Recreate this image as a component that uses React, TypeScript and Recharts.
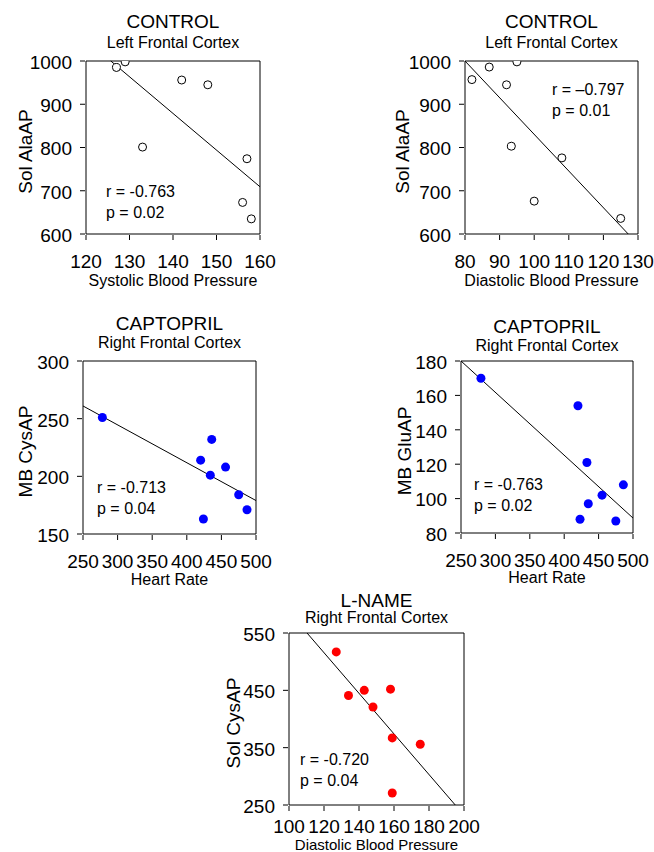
import React from "react";
import { ScatterChart, Scatter, XAxis, YAxis, ReferenceArea, ReferenceLine } from "recharts";

const FONT = '"Liberation Sans", Arial, Helvetica, sans-serif';

// CONTROL, left frontal cortex
const sbp = [129, 127, 142, 148, 133, 157, 156, 158];
const solAlaAP1 = [998, 985, 956, 945, 801, 774, 673, 635];
const dbpControl = [95, 87, 82, 92, 93.4, 108, 100, 125];
const solAlaAP2 = [998, 986, 957, 945, 803, 776, 676, 636];

// CAPTOPRIL, right frontal cortex
const hrCysAP = [278, 436, 420, 456, 434, 475, 487, 424];
const mbCysAP = [251, 232, 214, 208, 201, 184, 171, 163];
const hrGluAP = [279, 420, 433, 486, 455, 435, 423, 475];
const mbGluAP = [170, 154, 121, 108, 102, 97, 88, 87];

// L-NAME, right frontal cortex
const dbpLName = [127, 134, 143, 158, 148, 159, 175, 159];
const solCysAP = [517, 441, 450, 452, 421, 367, 356, 271];

// regression fits [intercept, slope]
const fit1 = [2066, -8.48];
const fit2 = [1678.4, -8.48];
const fit3 = [343, -0.328];
const fit4 = [271.3, -0.3652];
const fit5 = [940.7, -3.542];

const ticks1x = [120, 130, 140, 150, 160];
const ticks2x = [80, 90, 100, 110, 120, 130];
const ticksHR = [250, 300, 350, 400, 450, 500];
const ticks5x = [100, 120, 140, 160, 180, 200];
const ticksAla = [600, 700, 800, 900, 1000];
const ticksCys = [150, 200, 250, 300];
const ticksGlu = [80, 100, 120, 140, 160, 180];
const ticksSolCys = [250, 350, 450, 550];

const makeXTick = (dy: number) => (props: any) => {
  const { x, y, payload } = props;
  return (
    <g>
      <line x1={x} x2={x} y1={y} y2={y - 5} stroke="#000" />
      <text x={x} y={y + dy} textAnchor="middle" fontSize={19} fontFamily={FONT} fill="#000">
        {payload.value}
      </text>
    </g>
  );
};

const YTick = (props: any) => {
  const { x, y, payload } = props;
  return (
    <g>
      <line x1={x} x2={x + 5} y1={y} y2={y} stroke="#000" />
      <text x={x - 8} y={y + 1} dy="0.36em" textAnchor="end" fontSize={19} fontFamily={FONT} fill="#000">
        {payload.value}
      </text>
    </g>
  );
};

function clipFit(fit: number[], xd: number[], yd: number[]) {
  const [a, b] = fit;
  const pts: { x: number; y: number }[] = [];
  for (const x of xd) {
    const y = a + b * x;
    if (y >= yd[0] - 1e-6 && y <= yd[1] + 1e-6) pts.push({ x, y });
  }
  for (const y of yd) {
    const x = (y - a) / b;
    if (x >= xd[0] - 1e-6 && x <= xd[1] + 1e-6) pts.push({ x, y });
  }
  pts.sort((p, q) => p.x - q.x);
  return [pts[0], pts[pts.length - 1]];
}

type PanelProps = {
  left: number;
  top: number;
  w: number;
  h: number;
  xs: number[];
  ys: number[];
  xTicks: number[];
  yTicks: number[];
  fit: number[];
  color: string | null;
  title: string;
  subtitle: string;
  titleDy: number;
  subDy: number;
  tickDy: number;
  xLabel: string;
  xLabelDy: number;
  xLabelSize: number;
  yLabel: string;
  yLabelDx: number;
  r: string;
  p: string;
  rx: number;
  ry: number;
};

function Panel(p: PanelProps) {
  const YW = 70;
  const MT = 10;
  const MR = 30;
  const XH = 40;
  const data = p.xs.map((x, i) => ({ x, y: p.ys[i] }));
  const xd = [p.xTicks[0], p.xTicks[p.xTicks.length - 1]];
  const yd = [p.yTicks[0], p.yTicks[p.yTicks.length - 1]];
  const seg = clipFit(p.fit, xd, yd);
  const cx = p.left + p.w / 2;

  return (
    <>
      <div style={{ position: "absolute", left: p.left - YW, top: p.top - MT }}>
        <ScatterChart
          width={YW + p.w + MR}
          height={MT + p.h + XH}
          margin={{ top: MT, right: MR, bottom: 0, left: 0 }}
        >
          <XAxis
            type="number"
            dataKey="x"
            domain={xd}
            ticks={p.xTicks}
            interval={0}
            allowDataOverflow
            axisLine={false}
            tickLine={false}
            tickMargin={0}
            height={XH}
            tick={makeXTick(p.tickDy)}
          />
          <YAxis
            type="number"
            dataKey="y"
            domain={yd}
            ticks={p.yTicks}
            interval={0}
            allowDataOverflow
            axisLine={false}
            tickLine={false}
            tickMargin={0}
            width={YW}
            tick={YTick}
          />
          <ReferenceArea x1={xd[0]} x2={xd[1]} y1={yd[0]} y2={yd[1]} fill="none" stroke="#000" strokeWidth={1} />
          <ReferenceLine segment={seg} stroke="#000" strokeWidth={1} />
          <Scatter
            data={data}
            isAnimationActive={false}
            shape={(s: any) =>
              p.color ? (
                <circle cx={s.cx} cy={s.cy} r={4.5} fill={p.color} />
              ) : (
                <circle cx={s.cx} cy={s.cy} r={4} fill="#fff" stroke="#000" strokeWidth={1} />
              )
            }
          />
        </ScatterChart>
      </div>
      <svg
        width={654}
        height={852}
        style={{ position: "absolute", left: 0, top: 0, pointerEvents: "none" }}
        fontFamily={FONT}
        fill="#000"
      >
        <text x={cx} y={p.top + p.titleDy} textAnchor="middle" fontSize={19}>
          {p.title}
        </text>
        <text x={cx} y={p.top + p.subDy} textAnchor="middle" fontSize={16}>
          {p.subtitle}
        </text>
        <text x={cx} y={p.top + p.h + p.xLabelDy} textAnchor="middle" fontSize={p.xLabelSize}>
          {p.xLabel}
        </text>
        <text
          x={p.left - p.yLabelDx}
          y={p.top + p.h / 2 + 4}
          textAnchor="middle"
          dominantBaseline="central"
          fontSize={19}
          transform={`rotate(-90 ${p.left - p.yLabelDx} ${p.top + p.h / 2 + 4})`}
        >
          {p.yLabel}
        </text>
        <text x={p.left + p.rx} y={p.top + p.ry} fontSize={16}>
          {p.r}
        </text>
        <text x={p.left + p.rx} y={p.top + p.ry + 21} fontSize={16}>
          {p.p}
        </text>
      </svg>
    </>
  );
}

export default function App() {
  return (
    <div style={{ position: "absolute", left: 0, top: 0, width: 654, height: 852, background: "#fff" }}>
      <Panel
        left={86} top={61} w={174} h={173}
        xs={sbp} ys={solAlaAP1} xTicks={ticks1x} yTicks={ticksAla} fit={fit1} color={null}
        title="CONTROL" subtitle="Left Frontal Cortex" titleDy={-33} subDy={-13} tickDy={28}
        xLabel="Systolic Blood Pressure" xLabelDy={52} xLabelSize={16} yLabel="Sol AlaAP" yLabelDx={61}
        r="r = -0.763" p="p = 0.02" rx={20} ry={136}
      />
      <Panel
        left={465} top={61} w={173} h={173}
        xs={dbpControl} ys={solAlaAP2} xTicks={ticks2x} yTicks={ticksAla} fit={fit2} color={null}
        title="CONTROL" subtitle="Left Frontal Cortex" titleDy={-33} subDy={-13} tickDy={28}
        xLabel="Diastolic Blood Pressure" xLabelDy={52} xLabelSize={16} yLabel="Sol AlaAP" yLabelDx={63}
        r="r = –0.797" p="p = 0.01" rx={87} ry={34}
      />
      <Panel
        left={83} top={361} w={173} h={173}
        xs={hrCysAP} ys={mbCysAP} xTicks={ticksHR} yTicks={ticksCys} fit={fit3} color="#0000ff"
        title="CAPTOPRIL" subtitle="Right Frontal Cortex" titleDy={-31} subDy={-13} tickDy={28}
        xLabel="Heart Rate" xLabelDy={51} xLabelSize={16} yLabel="MB CysAP" yLabelDx={58}
        r="r = -0.713" p="p = 0.04" rx={14} ry={132}
      />
      <Panel
        left={461} top={361} w={172} h={172}
        xs={hrGluAP} ys={mbGluAP} xTicks={ticksHR} yTicks={ticksGlu} fit={fit4} color="#0000ff"
        title="CAPTOPRIL" subtitle="Right Frontal Cortex" titleDy={-28} subDy={-10} tickDy={28}
        xLabel="Heart Rate" xLabelDy={50} xLabelSize={16} yLabel="MB GluAP" yLabelDx={57}
        r="r = -0.763" p="p = 0.02" rx={13} ry={129}
      />
      <Panel
        left={289} top={633} w={175} h={172}
        xs={dbpLName} ys={solCysAP} xTicks={ticks5x} yTicks={ticksSolCys} fit={fit5} color="#ff0000"
        title="L-NAME" subtitle="Right Frontal Cortex" titleDy={-26} subDy={-10} tickDy={22}
        xLabel="Diastolic Blood Pressure" xLabelDy={45} xLabelSize={15} yLabel="Sol CysAP" yLabelDx={56}
        r="r = -0.720" p="p = 0.04" rx={11} ry={132}
      />
    </div>
  );
}
